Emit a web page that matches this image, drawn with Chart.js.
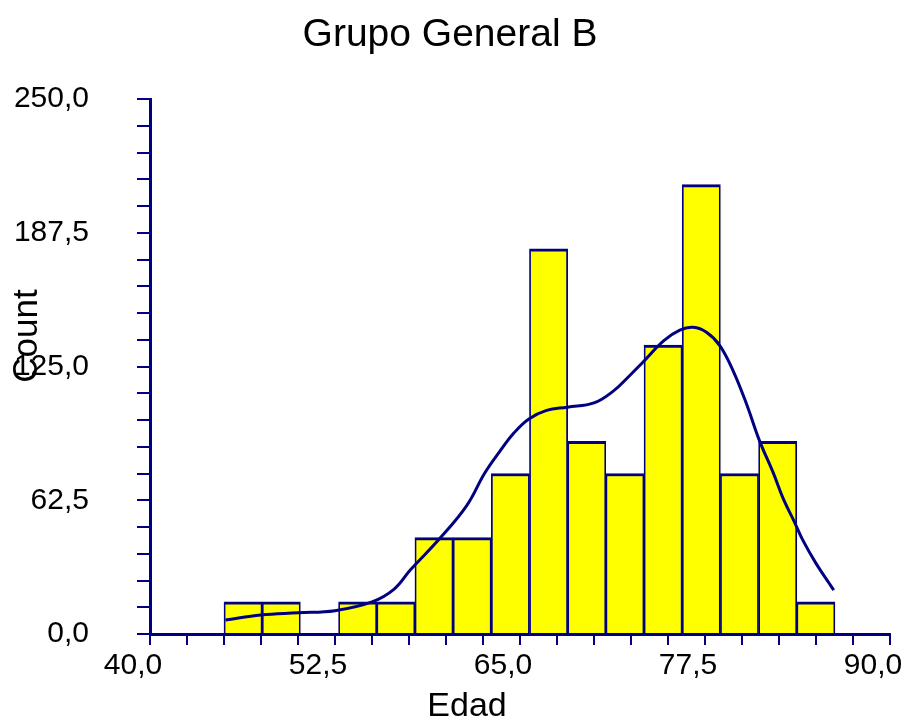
<!DOCTYPE html>
<html><head><meta charset="utf-8">
<script src="https://cdn.jsdelivr.net/npm/chart.js@4.4.1/dist/chart.umd.min.js"></script>
<style>html,body{margin:0;padding:0;background:#fff;}canvas{display:block}</style>
</head><body>
<canvas id="c" width="908" height="719"></canvas>
<script>
const chartTitle = 'Grupo General B';
const xTitle = 'Edad';
const yTitle = 'Count';

// histogram bins (centres, Edad) and counts
const binCenters = [46.29, 48.87, 51.45, 54.03, 56.61, 59.19, 61.77, 64.35, 66.93, 69.51, 72.09, 74.67, 77.25, 79.83, 82.41, 84.99];
const counts     = [15, 15, 0, 15, 15, 45, 45, 75, 180, 90, 75, 135, 210, 75, 90, 15];

// fitted density curve
const curveX = [45.1, 47.5, 50.0, 52.5, 55.0, 56.5, 57.6, 59.5, 61.4, 62.6, 63.6, 64.6, 65.6, 66.8, 68.2, 70.0, 71.3, 72.3, 73.3, 74.7, 75.8, 76.7, 77.6, 78.5, 79.4, 80.3, 81.2, 82.1, 82.8, 83.5, 84.1, 85.0, 85.9, 86.2];
const curveY = [6.5, 8.9, 9.9, 10.9, 15, 21, 30, 44, 60, 75, 85, 94, 100.5, 104.5, 106, 108, 113.5, 120, 127, 137, 142, 143.3, 141, 134.8, 123, 107.6, 90, 75.5, 63, 53, 44, 33, 23.6, 20.5];

// axis ticks
const xLabelValues = [40, 52.5, 65, 77.5, 90];
const yLabelValues = [0, 62.5, 125, 187.5, 250];
const xMinorStep = 2.5;
const yMinorStep = 12.5;

const fmt = v => v.toFixed(1).replace('.', ',');
const hasVal = (arr, v) => arr.some(a => Math.abs(a - v) < 1e-6);
const stepTicks = (a, b, s) => { const t = []; for (let v = a; v <= b + 1e-9; v += s) t.push({value: Math.round(v * 1000) / 1000}); return t; };

const NAVY = '#000080';
const FONT = '"Liberation Sans", Arial, sans-serif';

const textPlugin = {
  id: 'texts',
  afterDraw(chart) {
    const ctx = chart.ctx;
    ctx.save();
    ctx.fillStyle = '#000';
    ctx.textAlign = 'center';
    ctx.textBaseline = 'alphabetic';
    ctx.font = '39px ' + FONT;
    ctx.fillText(chartTitle, 450, 46);
    ctx.font = '34px ' + FONT;
    ctx.fillText(xTitle, 467, 716);
    ctx.translate(37, 336);
    ctx.rotate(-Math.PI / 2);
    ctx.font = '35px ' + FONT;
    ctx.fillText(yTitle, 0, 0);
    ctx.restore();
  }
};

new Chart(document.getElementById('c'), {
  type: 'bar',
  data: {
    datasets: [
      {
        type: 'line',
        data: curveX.map((x, i) => ({x, y: curveY[i]})),
        borderColor: NAVY,
        borderWidth: 3,
        pointRadius: 0,
        fill: false,
        tension: 0.4,
        order: 0
      },
      {
        type: 'bar',
        data: binCenters.map((x, i) => ({x, y: counts[i]})),
        backgroundColor: '#FFFF00',
        borderColor: NAVY,
        borderWidth: {top: 3, left: 1.75, right: 1.75, bottom: 0},
        borderSkipped: 'start',
        barThickness: 'flex',
        barPercentage: 1,
        categoryPercentage: 1,
        order: 1
      }
    ]
  },
  options: {
    responsive: false,
    animation: false,
    devicePixelRatio: 1,
    layout: {padding: {top: 99, right: 18, bottom: 25, left: 0}},
    plugins: {legend: {display: false}, tooltip: {enabled: false}, title: {display: false}},
    scales: {
      x: {
        type: 'linear',
        min: 40, max: 90,
        offset: false,
        afterBuildTicks: s => { s.ticks = stepTicks(40, 90, xMinorStep); },
        afterFit: s => { s.height = 60; s.paddingLeft = 0; s.paddingRight = 0; },
        border: {color: NAVY, width: 3},
        grid: {offset: false, drawOnChartArea: false, drawTicks: true, tickLength: 11, color: NAVY, lineWidth: 2},
        ticks: {
          autoSkip: false, maxRotation: 0, minRotation: 0,
          labelOffset: -17, padding: 3,
          color: '#000', font: {family: FONT, size: 30},
          callback: v => hasVal(xLabelValues, v) ? fmt(v) : ''
        }
      },
      y: {
        type: 'linear',
        min: 0, max: 250,
        afterBuildTicks: s => { s.ticks = stepTicks(0, 250, yMinorStep); },
        afterFit: s => { s.width = 150; s.paddingTop = 0; s.paddingBottom = 0; },
        border: {color: NAVY, width: 3},
        grid: {drawOnChartArea: false, drawTicks: true, tickLength: 13, color: NAVY, lineWidth: 2},
        ticks: {
          autoSkip: false, padding: 48,
          color: '#000', font: {family: FONT, size: 30},
          callback: v => hasVal(yLabelValues, v) ? fmt(v) : ''
        }
      }
    }
  },
  plugins: [textPlugin]
});
</script>
</body></html>
